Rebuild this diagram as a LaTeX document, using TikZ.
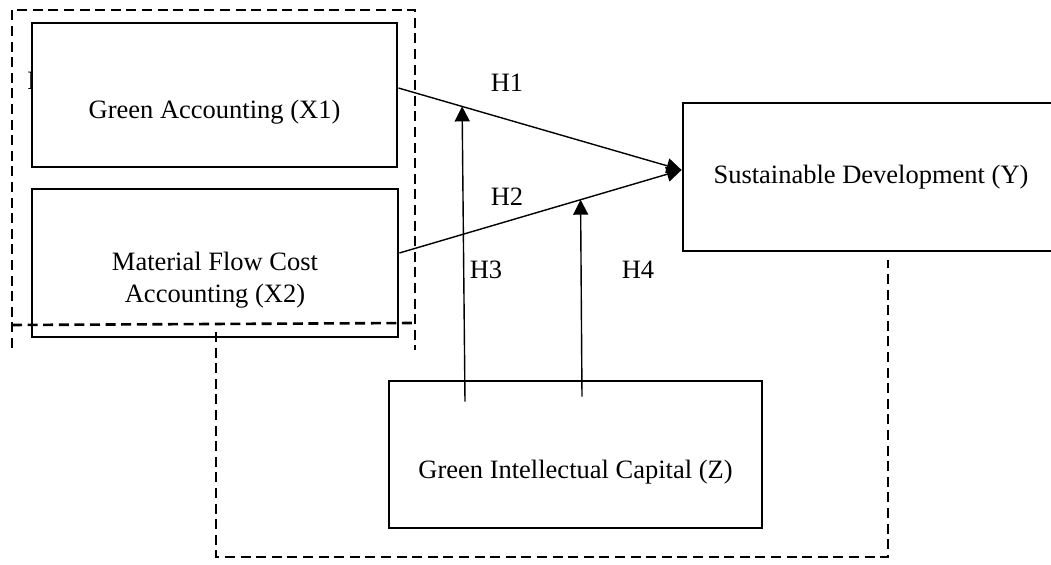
\documentclass[tikz,border=0pt]{standalone}
\usepackage{fontspec}
\setmainfont{Liberation Serif}
\usetikzlibrary{arrows.meta}

\begin{document}
\begin{tikzpicture}[x=0.5pt, y=-0.5pt,
    every node/.style = {font=\fontsize{13.25}{16}\selectfont},
    main/.style = {draw, fill=white, line width=1.4pt, inner sep=0pt},
    hyp/.style = {-{Triangle[length=7.5pt, width=7.5pt]}, line width=0.7pt},
    frame/.style = {dash pattern=on 5pt off 2.8pt, line width=1.3pt}]
\useasboundingbox (0,0) rectangle (1051,565);
\node[anchor=west, inner sep=0pt] (h0) at (27,81) {H};
\node[main, minimum width=182.5pt, minimum height=72pt] (x1) at (214.5,95) {};
\node[main, minimum width=183pt, minimum height=74pt] (x2) at (215,263) {};
\node[main, minimum width=188pt, minimum height=74pt] (y) at (871,177) {Sustainable Development (Y)};
\node[main, minimum width=186.5pt, minimum height=73.5pt] (z) at (575.5,454.5) {};
\node (x1t) at ([yshift=-8.5pt]x1.center) {Green Accounting (X1)};
\node[align=center] (x2t) at ([yshift=-8.5pt]x2.center) {Material Flow Cost\\Accounting (X2)};
\node (zt) at ([yshift=-9pt]z.center) {Green Intellectual Capital (Z)};
% direct paths
\draw[hyp] ([yshift=3.5pt]x1.east) -- coordinate[pos=0.225] (m1) ([yshift=3.5pt]y.west);
\draw[hyp] ([yshift=5pt]x2.east) -- coordinate[pos=0.642] (m2) ([yshift=3.5pt]y.west);
% moderation
\draw[hyp] ([xshift=-55.25pt, yshift=-11pt]z.north) -- (m1);
\draw[hyp] ([xshift=3.25pt, yshift=-8.5pt]z.north) -- (m2);
\node (h1) at (507,83) {H1};
\node (h2) at (507,197) {H2};
\node (h3) at (486,270) {H3};
\node (h4) at (638,270) {H4};
% dashed frames
\draw[frame] (12,348) -- (12,10) -- (415,10) -- (415,350);
\draw[frame] (12,325) -- (415,323);
\draw[frame] (216,332) -- (216,557) -- (888,557) -- (888,260);
\end{tikzpicture}
\end{document}
